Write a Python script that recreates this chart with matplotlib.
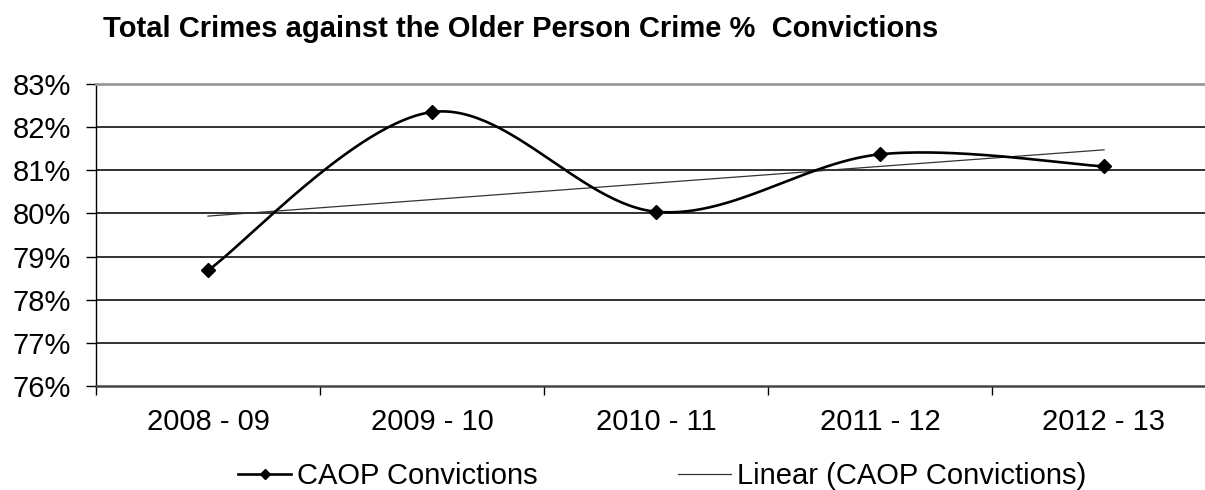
import numpy as np
import matplotlib
matplotlib.use("Agg")
import matplotlib.pyplot as plt
from matplotlib.lines import Line2D

categories = ["2008 - 09", "2009 - 10", "2010 - 11", "2011 - 12", "2012 - 13"]
convictions = [78.68, 82.35, 80.04, 81.37, 81.09]
yticks = [76, 77, 78, 79, 80, 81, 82, 83]
title = "Total Crimes against the Older Person Crime %  Convictions"
series_name = "CAOP Convictions"
trend_name = "Linear (CAOP Convictions)"

plt.rcParams['font.family'] = ['Liberation Sans', 'DejaVu Sans']

W, H = 1205, 490
fig = plt.figure(figsize=(W / 100, H / 100), dpi=100)
left, right, top, bottom = 96, 1216, 84, 386
ax = fig.add_axes([left / W, 1 - bottom / H, (right - left) / W, (bottom - top) / H])

x = np.arange(1, len(categories) + 1, dtype=float)
y = np.array(convictions)

# Smoothed line (Catmull-Rom as cubic Bezier, like a spreadsheet "smoothed line")
px = np.concatenate([[x[0]], x, [x[-1]]])
py = np.concatenate([[y[0]], y, [y[-1]]])
t = np.linspace(0, 1, 60)
sx, sy = [], []
for i in range(1, len(px) - 2):
    p0 = np.array([px[i], py[i]])
    p3 = np.array([px[i + 1], py[i + 1]])
    c1 = p0 + (np.array([px[i + 1], py[i + 1]]) - np.array([px[i - 1], py[i - 1]])) / 6
    c2 = p3 - (np.array([px[i + 2], py[i + 2]]) - np.array([px[i], py[i]])) / 6
    b = ((1 - t) ** 3)[:, None] * p0 + (3 * (1 - t) ** 2 * t)[:, None] * c1 \
        + (3 * (1 - t) * t ** 2)[:, None] * c2 + (t ** 3)[:, None] * p3
    sx.extend(b[:, 0]); sy.extend(b[:, 1])

for v in yticks[1:-1]:
    ax.axhline(v, color='#222222', lw=1.3, zorder=1)

ax.plot(sx, sy, color='black', lw=1.9, zorder=3)
ax.plot(x, y, linestyle='none', marker='D', ms=7.2, color='black', zorder=4)

coef = np.polyfit(x, y, 1)
ax.plot(x, np.polyval(coef, x), color='#333333', lw=0.9, zorder=2)

ax.set_xlim(0.5, len(categories) + 0.5)
ax.set_ylim(yticks[0], yticks[-1])
ax.set_yticks(yticks)
ax.set_yticklabels([f"{v}%" for v in yticks])
ax.set_xticks(x)
ax.set_xticklabels(categories)
ax.set_xticks(np.arange(0.5, len(categories) + 1, 1.0), minor=True)

ax.tick_params(axis='y', direction='out', length=7.2, width=1.0, pad=11, labelsize=21, colors='black')
ax.tick_params(axis='x', which='major', length=0, pad=16, labelsize=21)
ax.tick_params(axis='x', which='minor', direction='out', length=6.5, width=1.0)

ax.spines['right'].set_visible(False)
ax.spines['top'].set_color('#999999')
ax.spines['top'].set_linewidth(2)
ax.spines['bottom'].set_color('#444444')
ax.spines['bottom'].set_linewidth(1.8)
ax.spines['left'].set_color('black')
ax.spines['left'].set_linewidth(1.0)

fig.text(103 / W, 1 - 29 / H, title, fontsize=21, fontweight='bold', ha='left', va='center')

h1 = Line2D([], [], color='black', lw=1.9, marker='D', ms=5.5)
h2 = Line2D([], [], color='#333333', lw=0.9)
fig.legend([h1, h2], [series_name, trend_name], ncol=2, loc='center left',
           bbox_to_anchor=(238 / W, 1 - 476 / H), frameon=False, fontsize=21,
           handlelength=1.83, handletextpad=0.2, columnspacing=4.8, borderpad=0, borderaxespad=0)

fig.savefig("out.png", dpi=100)
